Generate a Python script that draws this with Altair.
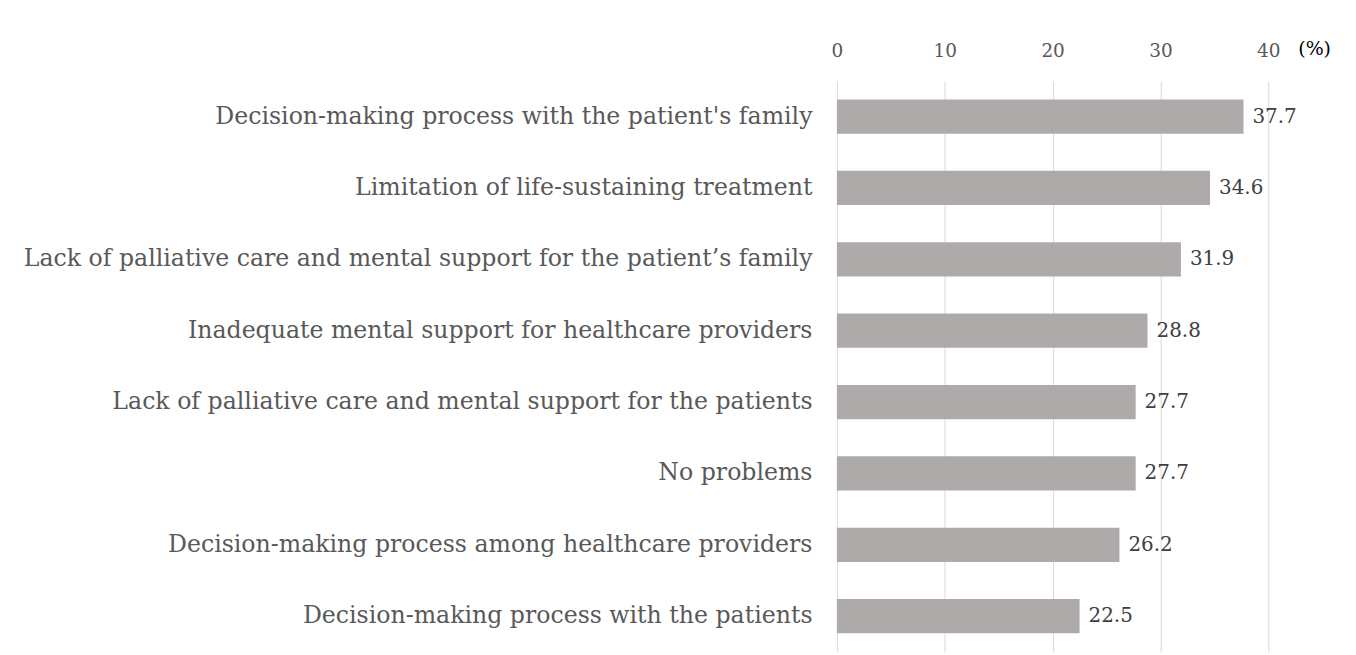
import altair as alt
import pandas as pd

categories = [
    "Decision-making process with the patient's family",
    "Limitation of life-sustaining treatment\u00a0",
    "Lack of palliative care and mental support for the patient\u2019s family",
    "Inadequate mental support for healthcare providers",
    "Lack of palliative care and mental support for the patients",
    "No problems",
    "Decision-making process among healthcare providers\u00a0",
    "Decision-making process with the patients",
]
values = [37.7, 34.6, 31.9, 28.8, 27.7, 27.7, 26.2, 22.5]
x_ticks = [0, 10, 20, 30, 40]

df = pd.DataFrame({"category": categories, "value": values})
df["label"] = df["value"].map(lambda v: f"{v:.1f}")

FONT = "DejaVu Serif"

base = alt.Chart(df).encode(
    y=alt.Y(
        "category:N",
        sort=categories,
        scale=alt.Scale(paddingInner=0.52, paddingOuter=0.26),
        axis=alt.Axis(
            title=None,
            labelFont=FONT,
            labelFontSize=23.7,
            labelColor="#595959",
            labelPadding=25,
            labelLimit=1000,
            domain=False,
            ticks=False,
            grid=False,
        ),
    ),
)

bars = base.mark_bar(color="#AEAAAA").encode(
    x=alt.X(
        "value:Q",
        scale=alt.Scale(domain=[0, 40], nice=False),
        axis=alt.Axis(
            orient="top",
            values=x_ticks,
            title="(%)",
            titleFont=FONT,
            titleFontSize=19,
            titleFontWeight="normal",
            titleColor="#000000",
            titleAngle=0,
            titleX=479,
            titleY=-33,
            titleBaseline="middle",
            labelFont=FONT,
            labelFontSize=18.5,
            labelColor="#595959",
            labelPadding=21,
            labelFlush=False,
            domain=False,
            ticks=False,
            grid=True,
            gridColor="#D9D9D9",
            gridWidth=1,
        ),
    )
)

texts = base.mark_text(
    align="left", baseline="middle", dx=9, font=FONT, fontSize=20, color="#404040"
).encode(x="value:Q", text="label:N")

chart = (
    (bars + texts)
    .properties(
        width=433,
        height=573,
        background="white",
        autosize=alt.AutoSizeParams(type="none"),
        padding={"left": 832, "top": 72, "right": 80, "bottom": 5},
    )
    .configure_view(strokeWidth=0)
)

chart.save("out.html", embed_options={"renderer": "svg", "actions": False})
